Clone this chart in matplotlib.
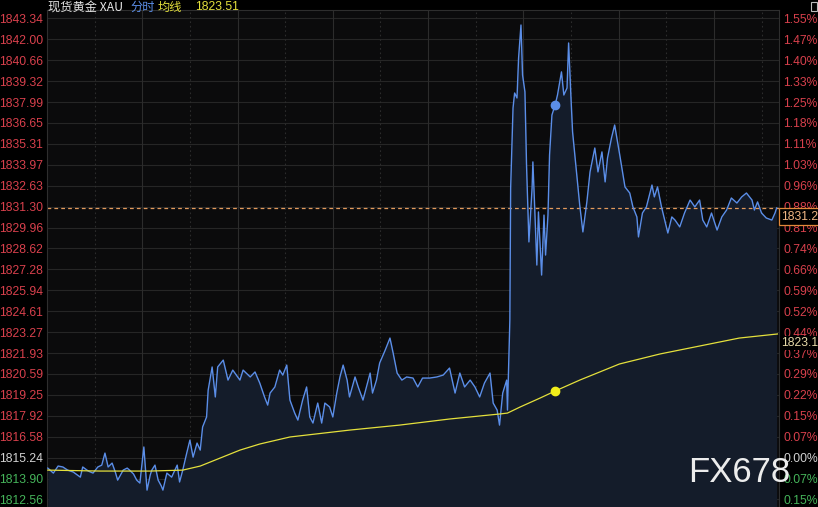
import matplotlib
matplotlib.use("Agg")
import matplotlib.pyplot as plt
from matplotlib.patches import Rectangle
import numpy as np

# ---------------- data ----------------
base_price = 1815.24
left_labels = ["1843.34", "1842.00", "1840.66", "1839.32", "1837.99", "1836.65",
               "1835.31", "1833.97", "1832.63", "1831.30", "1829.96", "1828.62",
               "1827.28", "1825.94", "1824.61", "1823.27", "1821.93", "1820.59",
               "1819.25", "1817.92", "1816.58", "1815.24", "1813.90", "1812.56"]
right_labels = ["1.55%", "1.47%", "1.40%", "1.33%", "1.25%", "1.18%", "1.11%", "1.03%",
                "0.96%", "0.88%", "0.81%", "0.74%", "0.66%", "0.59%", "0.52%", "0.44%",
                "0.37%", "0.29%", "0.22%", "0.15%", "0.07%", "0.00%", "0.07%", "0.15%"]

# minutes since session start
price_t = [1, 8, 14, 20, 26, 33, 42, 45, 52, 58, 64, 69, 73, 77, 82, 86, 89, 96, 101, 104,
           109, 113, 117, 122, 126, 130, 132, 136, 140, 144, 146, 151, 157, 164, 167, 171,
           176, 180, 184, 189, 193, 196, 201, 203, 208, 212, 215, 222, 228, 234, 243, 247,
           256, 262, 268, 274, 278, 281, 287, 293, 297, 302, 306, 312, 316, 322, 327, 331,
           335, 341, 346, 350, 356, 360, 365, 369, 373, 378, 381, 388, 392, 398, 407, 410,
           415, 419, 426, 432, 436, 441, 447, 453, 461, 467, 473, 482, 491, 499, 507, 514,
           520, 526, 533, 539, 545, 551, 558, 562, 567, 570, 574, 579, 580, 583, 584, 587,
           589, 592, 594, 597, 599, 602, 604, 607, 611, 612, 614, 617, 619, 623, 626, 628,
           631, 633, 636, 640, 643, 648, 651, 655, 657, 660, 662, 667, 671, 675, 680, 684,
           690, 694, 699, 703, 706, 711, 715, 721, 728, 734, 738, 743, 745, 750, 755, 762,
           765, 769, 774, 778, 782, 787, 791, 797, 803, 810, 816, 822, 826, 831, 837, 844,
           850, 856, 862, 869, 875, 881, 888, 891, 895, 900, 906, 913, 917, 919]
price_v = [1814.57, 1814.25, 1814.70, 1814.64, 1814.44, 1814.32, 1813.99, 1814.64, 1814.38,
           1814.25, 1814.64, 1814.76, 1815.53, 1814.64, 1814.89, 1814.32, 1813.80, 1814.44,
           1814.57, 1814.44, 1814.19, 1813.80, 1813.61, 1815.92, 1813.16, 1814.12, 1814.44,
           1814.76, 1813.80, 1813.42, 1813.16, 1814.25, 1813.99, 1814.76, 1813.68, 1814.44,
           1815.53, 1816.36, 1815.27, 1816.17, 1815.72, 1817.20, 1817.84, 1819.56, 1821.04,
           1819.12, 1821.04, 1821.48, 1820.20, 1820.84, 1820.20, 1820.84, 1820.40, 1820.72,
           1820.01, 1819.12, 1818.60, 1819.37, 1819.76, 1820.84, 1820.52, 1821.16, 1818.92,
           1818.09, 1817.64, 1818.92, 1819.76, 1817.84, 1817.45, 1818.73, 1817.45, 1818.73,
           1818.48, 1817.84, 1819.37, 1820.40, 1821.16, 1820.20, 1819.12, 1820.40, 1819.76,
           1818.92, 1820.65, 1819.37, 1820.20, 1821.29, 1822.12, 1822.89, 1821.93, 1820.65,
           1820.20, 1820.40, 1820.33, 1819.76, 1820.33, 1820.33, 1820.40, 1820.52, 1820.97,
           1819.37, 1820.65, 1819.76, 1820.20, 1819.76, 1819.12, 1820.01, 1820.65, 1818.73,
           1818.28, 1817.32, 1819.37, 1820.20, 1818.28, 1824.04, 1832.49, 1837.61, 1838.57,
           1838.25, 1840.81, 1842.92, 1839.72, 1838.64, 1833.96, 1829.04, 1832.49, 1834.16,
           1831.60, 1827.56, 1830.96, 1826.92, 1830.76, 1828.20, 1830.76, 1834.60, 1837.16,
           1837.80, 1838.44, 1839.92, 1838.44, 1838.89, 1841.77, 1838.25, 1836.08, 1833.52,
           1831.40, 1829.68, 1831.60, 1833.52, 1835.05, 1833.52, 1834.80, 1832.88, 1834.41,
           1835.69, 1836.52, 1834.73, 1832.56, 1832.17, 1831.28, 1830.64, 1829.36, 1830.89,
           1831.28, 1832.68, 1831.92, 1832.56, 1831.28, 1830.44, 1829.61, 1830.64, 1830.44,
           1830.00, 1830.89, 1831.72, 1831.28, 1831.72, 1830.44, 1830.00, 1830.89, 1829.80,
           1830.64, 1831.08, 1831.85, 1831.53, 1831.92, 1832.17, 1831.72, 1831.08, 1831.60,
           1830.89, 1830.57, 1830.44, 1830.89, 1831.21]

avg_t = [1, 67, 130, 171, 193, 218, 243, 268, 306, 381, 444, 507, 570, 580, 596, 621,
         640, 671, 721, 772, 822, 872, 920]
avg_v = [1814.44, 1814.38, 1814.38, 1814.44, 1814.70, 1815.21, 1815.72, 1816.11, 1816.56,
         1817.00, 1817.32, 1817.71, 1818.03, 1818.09, 1818.48, 1819.05, 1819.50, 1820.20,
         1821.23, 1821.87, 1822.38, 1822.89, 1823.15]

marker_t = 640
header_avg = "1823.51"
session_minutes = 922

# ---------------- styling ----------------
RED = "#d8404c"
GREEN = "#45b45a"
WHITE = "#d2d2d2"
LINE = "#5b8ee8"
FILL = "#141c2a"
AVG = "#e4e03c"
GRID = "#262626"

fig = plt.figure(figsize=(8.18, 5.07), dpi=100, facecolor="black")
ax = fig.add_axes([47 / 818, 0.0, 732 / 818, 497 / 507])
ax.set_facecolor("#0b0b0c")

ticks = [float(s) for s in left_labels]
ylo, yhi = 1812.08, 1843.88
ax.set_xlim(0, session_minutes)
ax.set_ylim(ylo, yhi)

# grid
for v in ticks:
    ax.axhline(v, color=GRID, lw=0.8, zorder=0)
for m in range(60, session_minutes, 60):
    if m % 120 == 0:
        ax.axvline(m, color="#2c2c2c", lw=0.8, zorder=0)
    else:
        ax.axvline(m, color="#2c2c2c", lw=0.8, ls=(0, (1.5, 2.5)), zorder=0)

pt = np.array(price_t)
pv = np.array(price_v)
ax.fill_between(pt, pv, ylo, color=FILL, lw=0, zorder=1)
ax.plot(pt, pv, color=LINE, lw=1.0, zorder=3)
ax.plot(avg_t, avg_v, color=AVG, lw=0.9, zorder=3)

# markers
ax.plot([marker_t], [np.interp(marker_t, pt, pv)], "o", color=LINE, ms=6, zorder=4)
ax.plot([marker_t], [np.interp(marker_t, avg_t, avg_v)], "o", color="#f2ee1a", ms=6, zorder=4)

# current price dashed line
ax.axhline(price_v[-1], color="#e39a5c", lw=0.9, ls=(0, (3, 2.5)), zorder=2)

for s in ax.spines.values():
    s.set_color("#2e2e2e")
    s.set_linewidth(0.8)

ax.set_xticks([])
ax.set_yticks(ticks)
ax.set_yticklabels(left_labels)
ax.tick_params(axis="y", length=0, pad=3, labelsize=8.7)

def col(v):
    if abs(v - base_price) < 1e-6:
        return WHITE
    return RED if v > base_price else GREEN

for lab, v in zip(ax.get_yticklabels(), ticks):
    lab.set_color(col(v))
    lab.set_fontfamily("Liberation Sans")

ax2 = ax.twinx()
ax2.set_ylim(ylo, yhi)
ax2.set_yticks(ticks)
ax2.set_yticklabels(right_labels)
ax2.tick_params(axis="y", length=0, pad=3, labelsize=8.7)
for lab, v in zip(ax2.get_yticklabels(), ticks):
    lab.set_color(col(v))
    lab.set_fontfamily("Liberation Sans")
for s in ax2.spines.values():
    s.set_visible(False)

# right-side value tags
ax2.annotate(f"{price_v[-1]:.2f}"[:6], xy=(1.0, price_v[-1]),
             xycoords=("axes fraction", "data"), xytext=(1.5, -6.2),
             textcoords="offset points", va="center", ha="left",
             fontsize=8.7, family="Liberation Sans", color="#f0b684",
             bbox=dict(boxstyle="square,pad=0.18", fc="black", ec="#e0883a", lw=0.9),
             annotation_clip=False, zorder=10)
ax2.annotate(f"{avg_v[-1]:.2f}"[:6], xy=(1.0, avg_v[-1]),
             xycoords=("axes fraction", "data"), xytext=(1.5, -6.5),
             textcoords="offset points", va="center", ha="left",
             fontsize=8.7, family="Liberation Sans", color="#e6d9a8",
             bbox=dict(boxstyle="square,pad=0.1", fc="black", ec="none"),
             annotation_clip=False, zorder=10)

# header
fam = ["Noto Sans CJK SC", "DejaVu Sans"]
hy = 1 - 7 / 507
fig.text(48 / 818, hy, "现货黄金 XAU", color="#e6e6e6", fontsize=8.8, family=fam, va="center")
fig.text(130 / 818, hy, "分时", color="#5b8ee8", fontsize=8.8, family=fam, va="center")
fig.text(158 / 818, hy, "均线", color="#e4e03c", fontsize=8.8, family=fam, va="center")
fig.text(195 / 818, hy, header_avg, color="#e4e03c", fontsize=8.7, family="Liberation Sans", va="center")

# small icon top right
fig.patches.append(Rectangle((811 / 818, 1 - 11 / 507), 6 / 818, 9 / 507,
                             transform=fig.transFigure, fill=False, ec="#bbbbbb", lw=0.8))

# watermark
fig.text(688 / 818, 1 - 482 / 507, "FX678", color="#ececec", fontsize=25,
         family="Liberation Sans", va="baseline", ha="left", zorder=20)

fig.savefig("out.png", dpi=100, facecolor="black")
